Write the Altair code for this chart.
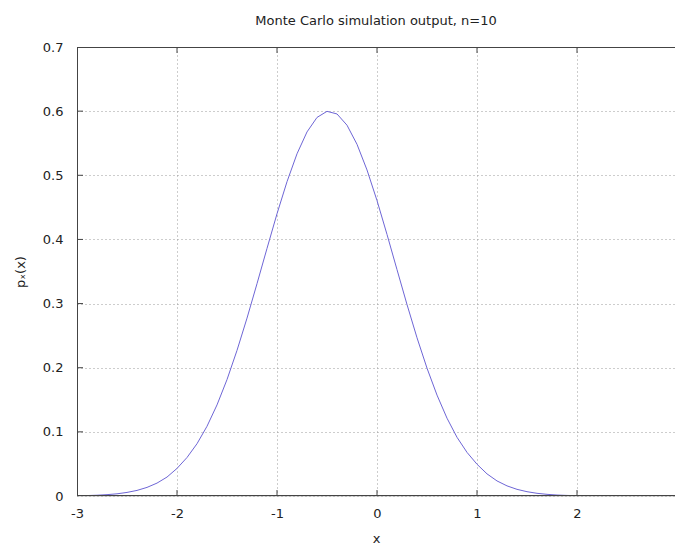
import altair as alt
import pandas as pd

# Estimated density curve (x step 0.1 from -3 to 3)
x_vals = [round(-3 + 0.1 * i, 1) for i in range(61)]
p_vals = [
    0.0004, 0.0007, 0.0012, 0.0021, 0.0034, 0.0056, 0.0087, 0.0134, 0.0201, 0.0295,
    0.0430, 0.0600, 0.0815, 0.1087, 0.1420, 0.1815, 0.2270, 0.2773, 0.3310, 0.3860,
    0.4400, 0.4900, 0.5335, 0.5676, 0.5902, 0.5997, 0.5956, 0.5781, 0.5483, 0.5083,
    0.4606, 0.4078, 0.3529, 0.2985, 0.2467, 0.1993, 0.1573, 0.1213, 0.0915, 0.0680,
    0.0495, 0.0345, 0.0235, 0.0158, 0.0104, 0.0067, 0.0042, 0.0026, 0.0015, 0.0009,
    0.0005, 0.0, 0.0, 0.0, 0.0, 0.0, 0.0, 0.0, 0.0, 0.0, 0.0,
]
x_ticks = [-3, -2, -1, 0, 1, 2, 3]
y_ticks = [0, 0.1, 0.2, 0.3, 0.4, 0.5, 0.6, 0.7]

W, H = 598, 449
FONT = "DejaVu Sans"
xscale = alt.Scale(domain=[-3, 2.98], nice=False, zero=False)
yscale = alt.Scale(domain=[0, 0.7], nice=False)

df = pd.DataFrame({"x": x_vals, "p": p_vals})
xt = pd.DataFrame({"t": x_ticks})
yt = pd.DataFrame({"t": y_ticks})

grid_axis_common = dict(
    grid=True, gridColor="#9a9a9a", gridDash=[1, 3], gridWidth=1,
    ticks=False, domain=False, labelFont=FONT, labelFontSize=13,
    labelColor="#222", titleFont=FONT, titleFontSize=13,
    titleFontWeight="normal", titleColor="#222", labelFlush=False,
)

line = alt.Chart(df).mark_line(color="#6e66d6", strokeWidth=1, clip=True).encode(
    x=alt.X("x:Q", scale=xscale, title="x",
            axis=alt.Axis(values=x_ticks, labelPadding=11, titlePadding=12,
                          labelExpr="'' + datum.value",
                          **grid_axis_common)),
    y=alt.Y("p:Q", scale=yscale, title="pₓ(x)",
            axis=alt.Axis(values=y_ticks, labelPadding=14, titlePadding=15,
                          labelExpr="datum.value == 0 ? '0' : format(datum.value, '.1f')",
                          **grid_axis_common)),
)

tick_color = "#444"
bottom_ticks = alt.Chart(xt).mark_rule(color=tick_color, clip=True).encode(
    x=alt.X("t:Q", scale=xscale), y=alt.value(H), y2=alt.value(H - 6))
top_ticks = alt.Chart(xt).mark_rule(color=tick_color, clip=True).encode(
    x=alt.X("t:Q", scale=xscale), y=alt.value(0), y2=alt.value(6))
left_ticks = alt.Chart(yt).mark_rule(color=tick_color, clip=True).encode(
    y=alt.Y("t:Q", scale=yscale), x=alt.value(0), x2=alt.value(6))
frame = alt.Chart(xt).mark_rect(fill="transparent", stroke="#444", strokeWidth=1).encode(
    x=alt.value(0.5), x2=alt.value(W + 2), y=alt.value(0.5), y2=alt.value(H - 0.5))

chart = (
    alt.layer(line, bottom_ticks, top_ticks, left_ticks, frame)
    .properties(
        width=W, height=H,
        title=alt.TitleParams("Monte Carlo simulation output, n=10",
                              font=FONT, fontSize=13, fontWeight="normal",
                              color="#222", anchor="middle", offset=13),
        autosize=alt.AutoSizeParams(type="none"),
        padding={"left": 77, "top": 47, "right": 0, "bottom": 49},
    )
    .configure_view(stroke=None)
    .configure(background="white")
)

chart.save("out.html", embed_options={"renderer": "svg", "actions": False})
